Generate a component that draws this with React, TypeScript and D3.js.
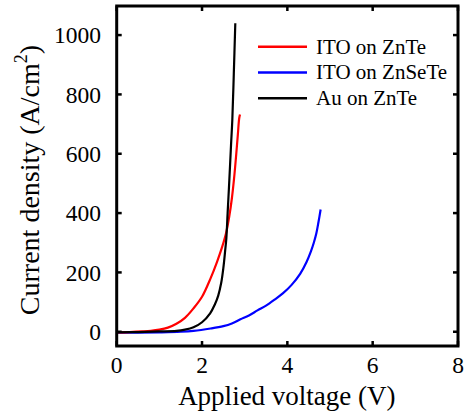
import React from "react";
import * as d3 from "d3";

const redV = [0, 0.3, 0.6, 0.8, 1.0, 1.2, 1.4, 1.6, 1.8, 2.0, 2.2, 2.35, 2.47, 2.56, 2.64, 2.7, 2.75, 2.8, 2.84, 2.87, 2.89];
const redJ = [-2, -1, 1, 3, 7, 14, 27, 47, 79, 118, 180, 235, 285, 330, 390, 450, 515, 595, 665, 718, 732];

const blackV = [0, 0.5, 1.0, 1.4, 1.6, 1.8, 2.0, 2.19, 2.3, 2.38, 2.45, 2.5, 2.54, 2.57, 2.6, 2.64, 2.68, 2.71, 2.745, 2.78];
const blackJ = [-2, -1, 1, 3, 7, 15, 32, 62, 92, 122, 165, 215, 270, 315, 400, 511, 630, 714, 870, 1040];

const blueV = [0, 0.5, 1.0, 1.5, 1.8, 2.2, 2.5, 2.7, 2.9, 3.1, 3.3, 3.5, 3.7, 3.9, 4.1, 4.3, 4.45, 4.55, 4.62, 4.68, 4.73, 4.78];
const blueJ = [-3, -3, -2, 0, 3, 11, 19, 28, 42, 55, 72, 88, 108, 130, 158, 195, 235, 270, 300, 332, 370, 412];

const xTicks = [0, 2, 4, 6, 8];
const yTicks = [0, 200, 400, 600, 800, 1000];

const series = [
  { name: "ITO on ZnTe", color: "#ff0000", v: redV, j: redJ },
  { name: "ITO on ZnSeTe", color: "#0000ff", v: blueV, j: blueJ },
  { name: "Au on ZnTe", color: "#000000", v: blackV, j: blackJ },
];
const drawOrder = [1, 0, 2];

const FONT = '"Liberation Serif", "Times New Roman", Times, serif';

export default function App() {
  const W = 465, H = 412;
  const L = 116.7, R = 458, T = 6, B = 346;
  const x = d3.scaleLinear().domain([0, 8]).range([L, R]);
  const y = d3.scaleLinear().domain([-48, 1098]).range([B, T]);
  const tickLen = 5;
  const tf = { fontFamily: FONT };

  const line = (v: number[], j: number[]) =>
    d3
      .line<number>()
      .x((d) => x(d))
      .y((_, i) => y(j[i]))
      .curve(d3.curveCatmullRom.alpha(0.5))(v) || "";

  return (
    <svg width={W} height={H} style={{ position: "absolute", left: 0, top: 0, fontFamily: FONT }}>
      <rect width={W} height={H} fill="#fff" />
      <defs>
        <clipPath id="plot">
          <rect x={L} y={T} width={R - L} height={B - T} />
        </clipPath>
      </defs>
      <g clipPath="url(#plot)">
        {drawOrder.map((k) => {
          const s = series[k];
          return <path key={s.name} d={line(s.v, s.j)} fill="none" stroke={s.color} strokeWidth={2.2} strokeLinejoin="round" />;
        })}
      </g>
      {xTicks.map((t) => (
        <g key={"x" + t}>
          <line x1={x(t)} x2={x(t)} y1={B} y2={B - tickLen} stroke="#000" strokeWidth={2.5} />
          <line x1={x(t)} x2={x(t)} y1={T} y2={T + tickLen} stroke="#000" strokeWidth={2.5} />
          <text x={x(t)} y={373} fontSize={23.5} textAnchor="middle" style={tf}>{t}</text>
        </g>
      ))}
      {yTicks.map((t) => (
        <g key={"y" + t}>
          <line x1={L} x2={L + tickLen} y1={y(t)} y2={y(t)} stroke="#000" strokeWidth={2.5} />
          <line x1={R} x2={R - tickLen} y1={y(t)} y2={y(t)} stroke="#000" strokeWidth={2.5} />
          <text x={101} y={y(t)} dy="0.35em" fontSize={23.5} textAnchor="end" style={tf}>{t}</text>
        </g>
      ))}
      <rect x={L} y={T} width={R - L} height={B - T} fill="none" stroke="#000" strokeWidth={3} />
      {series.map((s, i) => (
        <g key={"lg" + i}>
          <line x1={258} x2={307} y1={46.7 + i * 25.8} y2={46.7 + i * 25.8} stroke={s.color} strokeWidth={2.5} />
          <text x={316} y={46.7 + i * 25.8} dy="0.33em" fontSize={21} style={tf}>{s.name}</text>
        </g>
      ))}
      <text x={(L + R) / 2 - 0.5} y={405} fontSize={27} textAnchor="middle" style={tf}>Applied voltage (V)</text>
      <text transform={`translate(39,180) rotate(-90)`} fontSize={28} textAnchor="middle" style={tf}>
        Current density (A/cm<tspan dy="-12" fontSize={18}>2</tspan><tspan dy="12">)</tspan>
      </text>
    </svg>
  );
}
